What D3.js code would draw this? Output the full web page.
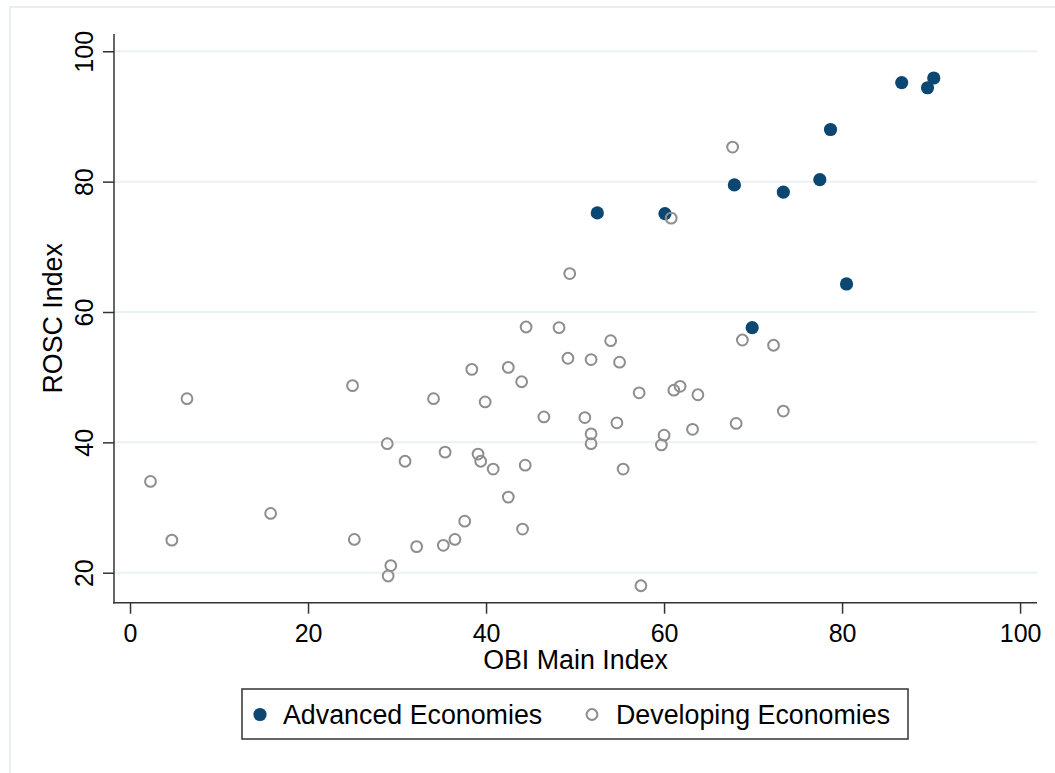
<!DOCTYPE html>
<html>
<head>
<meta charset="utf-8">
<script src="https://cdn.jsdelivr.net/npm/d3@7"></script>
<style>
  body { margin: 0; background: #fff; }
  svg { display: block; }
</style>
</head>
<body>
<div id="chart"></div>
<script>
// OBI Main Index (x) vs ROSC Index (y)
const advancedObi  = [86.7, 90.3, 89.6, 78.7, 67.9, 73.4, 77.5, 52.5, 60.1, 80.5, 69.9];
const advancedRosc = [95.2, 95.9, 94.4, 88.0, 79.5, 78.4, 80.3, 75.2, 75.1, 64.3, 57.6];

const developingObi = [
  67.7, 60.8, 49.4, 44.5, 48.2, 54.0, 68.8, 72.3, 49.2, 51.8,
  55.0, 38.4, 42.5, 44.0, 57.2, 61.1, 61.8, 63.8, 34.1, 39.9,
  73.4, 46.5, 51.1, 54.7, 68.1, 63.2, 51.8, 60.0, 51.8, 59.7,
  30.9, 35.4, 39.1, 39.4, 40.8, 44.4, 55.4, 42.5, 37.6, 44.1,
  32.2, 35.2, 36.5, 57.4, 6.4, 25.0, 28.9, 2.3, 15.8, 4.7,
  25.2, 29.3, 29.0
];
const developingRosc = [
  85.3, 74.4, 65.9, 57.7, 57.6, 55.6, 55.7, 54.9, 52.9, 52.7,
  52.3, 51.2, 51.5, 49.3, 47.6, 48.0, 48.6, 47.3, 46.7, 46.2,
  44.8, 43.9, 43.8, 43.0, 42.9, 42.0, 41.3, 41.1, 39.8, 39.6,
  37.1, 38.5, 38.2, 37.1, 35.9, 36.5, 35.9, 31.6, 27.9, 26.7,
  24.0, 24.2, 25.1, 18.0, 46.7, 48.7, 39.8, 34.0, 29.1, 25.0,
  25.1, 21.1, 19.5
];

const xTicks = [0, 20, 40, 60, 80, 100];
const yTicks = [20, 40, 60, 80, 100];
const legendLabels = ["Advanced Economies", "Developing Economies"];

const NAVY = "#0b4771";
const GREY = "#8e8e8e";
const GRID = "#eaf2f3";
const AXIS = "#333333";
const FONT = "'Liberation Sans', Arial, sans-serif";

const W = 1055, H = 773;
const plot = { left: 114, right: 1037, top: 34, bottom: 602.7 };

const svg = d3.select("#chart").append("svg")
  .attr("width", W).attr("height", H)
  .style("font-family", FONT);

// faint outer frame of the graph region (only top & left fall inside the picture)
svg.append("path")
  .attr("d", `M10,${H} V7 H${W}`)
  .attr("fill", "none").attr("stroke", "#e6eff3").attr("stroke-width", 2);

const x = d3.scaleLinear().domain([-1.8, 101.9]).range([plot.left, plot.right]);
const y = d3.scaleLinear().domain([15.4, 102.65]).range([plot.bottom, plot.top]);

// horizontal gridlines
svg.append("g")
  .selectAll("line")
  .data(yTicks)
  .join("line")
  .attr("x1", plot.left).attr("x2", plot.right)
  .attr("y1", d => y(d)).attr("y2", d => y(d))
  .attr("stroke", GRID).attr("stroke-width", 2);

// Y axis — rotated tick labels, Stata style
svg.append("g")
  .attr("transform", `translate(${plot.left},0)`)
  .call(d3.axisLeft(y).tickValues(yTicks).tickSize(11).tickSizeOuter(0))
  .call(g => g.select(".domain").remove())
  .call(g => g.selectAll(".tick line").attr("stroke", AXIS).attr("stroke-width", 1.5))
  .call(g => g.selectAll(".tick text")
    .attr("transform", "rotate(-90)")
    .attr("x", 0).attr("y", -21).attr("dy", 0)
    .attr("text-anchor", "middle")
    .attr("fill", "#000").attr("font-size", 25).attr("font-family", FONT));

svg.append("line")
  .attr("x1", plot.left).attr("x2", plot.left)
  .attr("y1", plot.top).attr("y2", plot.bottom + 0.75)
  .attr("stroke", AXIS).attr("stroke-width", 1.5);

// X axis
svg.append("g")
  .attr("transform", `translate(0,${plot.bottom})`)
  .call(d3.axisBottom(x).tickValues(xTicks).tickSize(11).tickSizeOuter(0))
  .call(g => g.select(".domain").remove())
  .call(g => g.selectAll(".tick line").attr("stroke", AXIS).attr("stroke-width", 1.5))
  .call(g => g.selectAll(".tick text")
    .attr("y", 39).attr("dy", 0)
    .attr("fill", "#000").attr("font-size", 25).attr("font-family", FONT));

svg.append("line")
  .attr("x1", plot.left - 0.75).attr("x2", plot.right)
  .attr("y1", plot.bottom).attr("y2", plot.bottom)
  .attr("stroke", AXIS).attr("stroke-width", 1.5);

// axis titles
svg.append("text")
  .attr("x", (plot.left + plot.right) / 2).attr("y", 669)
  .attr("text-anchor", "middle").attr("font-size", 26.8)
  .text("OBI Main Index");

svg.append("text")
  .attr("transform", `translate(62,${(plot.top + plot.bottom) / 2}) rotate(-90)`)
  .attr("text-anchor", "middle").attr("font-size", 26.8)
  .text("ROSC Index");

// points — advanced first, developing drawn on top
svg.append("g")
  .selectAll("circle")
  .data(advancedObi.map((v, i) => [v, advancedRosc[i]]))
  .join("circle")
  .attr("cx", d => x(d[0])).attr("cy", d => y(d[1]))
  .attr("r", 6.6)
  .attr("fill", NAVY);

svg.append("g")
  .selectAll("circle")
  .data(developingObi.map((v, i) => [v, developingRosc[i]]))
  .join("circle")
  .attr("cx", d => x(d[0])).attr("cy", d => y(d[1]))
  .attr("r", 5.4)
  .attr("fill", "none")
  .attr("stroke", GREY).attr("stroke-width", 2);

// legend
const lg = svg.append("g");
lg.append("rect")
  .attr("x", 242).attr("y", 689)
  .attr("width", 666).attr("height", 50)
  .attr("fill", "#fff").attr("stroke", AXIS).attr("stroke-width", 1.5);

lg.append("circle").attr("cx", 260).attr("cy", 714.5).attr("r", 6.6).attr("fill", NAVY);
lg.append("text").attr("x", 283).attr("y", 724).attr("font-size", 26.8).text(legendLabels[0]);

lg.append("circle").attr("cx", 592).attr("cy", 714.5).attr("r", 5.4)
  .attr("fill", "none").attr("stroke", GREY).attr("stroke-width", 2);
lg.append("text").attr("x", 616).attr("y", 724).attr("font-size", 26.8).text(legendLabels[1]);
</script>
</body>
</html>
